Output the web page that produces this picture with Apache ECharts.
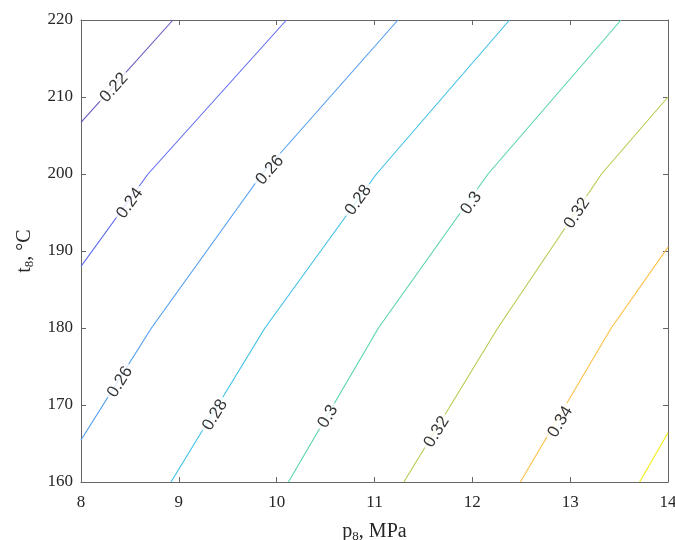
<!DOCTYPE html>
<html>
	<head>
		<meta charset="utf-8">
		<title></title>
		<script src="https://cdn.jsdelivr.net/npm/echarts@6/dist/echarts.min.js"></script>
	</head>
	<body style="margin: 0;">
		<div id="main" style="width: 675px;height:540px;"></div>
		<script type="text/javascript">
			// contour levels and their polylines (p8 in MPa, t8 in °C)
			var levels = [0.22, 0.24, 0.26, 0.28, 0.3, 0.32, 0.34, 0.36];
			var lineP = [
				[8, 8.94],
				[8, 8.685, 10.10],
				[8, 8.72, 9.85, 11.24],
				[8.92, 9.88, 11.02, 12.38],
				[10.12, 11.04, 12.16, 13.52],
				[11.30, 12.26, 13.32, 14],
				[12.49, 13.42, 14],
				[13.71, 14]
			];
			var lineT = [
				[206.7, 220],
				[188.0, 200, 220],
				[165.45, 180, 200, 220],
				[160, 180, 200, 220],
				[160, 180, 200, 220],
				[160, 180, 200, 210.0],
				[160, 180, 190.5],
				[160, 166.4]
			];
			// contour labels
			var labelLevel = [0.22, 0.24, 0.26, 0.26, 0.28, 0.28, 0.3, 0.3, 0.32, 0.32, 0.34];
			var labelP = [8.337, 8.50, 9.93, 8.40, 10.835, 9.37, 11.99, 10.525, 13.07, 11.636, 12.90];
			var labelT = [211.2, 196.2, 200.5, 173.0, 196.6, 168.7, 196.2, 168.5, 194.9, 166.5, 167.8];
			var xTicks = [8, 9, 10, 11, 12, 13, 14];
			var yTicks = [160, 170, 180, 190, 200, 210, 220];

			var colors = ['#6656c2', '#5e6af0', '#4f9cf2', '#3cc0e6', '#56d4ae', '#b4cc4e', '#fcc046', '#f2ee10'];

			var myChart = echarts.init(document.getElementById('main'));

			var axisCommon = {
				min: xTicks[0],
				max: xTicks[xTicks.length - 1],
				interval: 1,
				axisLine: { show: true, onZero: false, lineStyle: { color: '#666', width: 1 } },
				axisTick: { show: true, inside: true, length: 5, lineStyle: { color: '#666' } },
				splitLine: { show: false }
			};
			var serif = 'Liberation Serif';
			var nameRich = {
				s: { fontSize: 13, fontFamily: serif, color: '#262626', padding: [9, 0, 0, 0] }
			};

			var series = [];
			levels.forEach(function (lv, i) {
				var pts = lineP[i].map(function (p, j) { return [p, lineT[i][j]]; });
				series.push({
					type: 'line',
					data: pts,
					symbol: 'none',
					silent: true,
					lineStyle: { color: colors[i], width: 1.1 },
					z: 2
				});
			});

			function labelData(angles) {
				return labelLevel.map(function (lv, k) {
					return {
						value: [labelP[k], labelT[k]],
						label: { rotate: angles ? angles[k] : 0 }
					};
				});
			}

			series.push({
				type: 'scatter',
				data: labelData(null),
				symbolSize: 0,
				silent: true,
				z: 5,
				label: {
					show: true,
					position: 'inside',
					formatter: function (p) { return String(labelLevel[p.dataIndex]); },
					fontFamily: 'Liberation Sans',
					fontSize: 17,
					color: '#000',
					backgroundColor: '#fff',
					padding: [0, 3]
				}
			});

			var option = {
				animation: false,
				grid: { left: 81, right: 7, top: 20, bottom: 58, outerBoundsMode: 'none' },
				xAxis: [
					Object.assign({}, axisCommon, {
						type: 'value',
						position: 'bottom',
						name: 'p{s|8}, MPa',
						nameLocation: 'middle',
						nameGap: 39,
						nameTextStyle: { fontFamily: serif, fontSize: 20, color: '#262626', rich: nameRich },
						axisLabel: { fontFamily: serif, fontSize: 17, color: '#262626', margin: 12 }
					}),
					Object.assign({}, axisCommon, {
						type: 'value',
						position: 'top',
						axisLabel: { show: false }
					})
				],
				yAxis: [
					Object.assign({}, axisCommon, {
						type: 'value',
						min: yTicks[0],
						max: yTicks[yTicks.length - 1],
						interval: 10,
						position: 'left',
						name: 't{s|8}, °C',
						nameLocation: 'middle',
						nameGap: 45,
						nameTextStyle: { fontFamily: serif, fontSize: 20, color: '#262626', rich: nameRich },
						axisLabel: { fontFamily: serif, fontSize: 17, color: '#262626', margin: 8 }
					}),
					Object.assign({}, axisCommon, {
						type: 'value',
						min: yTicks[0],
						max: yTicks[yTicks.length - 1],
						interval: 10,
						position: 'right',
						axisLabel: { show: false }
					})
				],
				series: series
			};
			myChart.setOption(option);

			// rotate labels along their contour line
			var angles = labelLevel.map(function (lv, k) {
				var i = levels.indexOf(lv);
				var ps = lineP[i], ts = lineT[i];
				var j = 0;
				while (j < ps.length - 2 && ts[j + 1] < labelT[k]) j++;
				var a = myChart.convertToPixel({ gridIndex: 0 }, [ps[j], ts[j]]);
				var b = myChart.convertToPixel({ gridIndex: 0 }, [ps[j + 1], ts[j + 1]]);
				return Math.atan2(a[1] - b[1], b[0] - a[0]) * 180 / Math.PI;
			});
			series[series.length - 1].data = labelData(angles);
			myChart.setOption({ series: series });
		</script>
	</body>
</html>
